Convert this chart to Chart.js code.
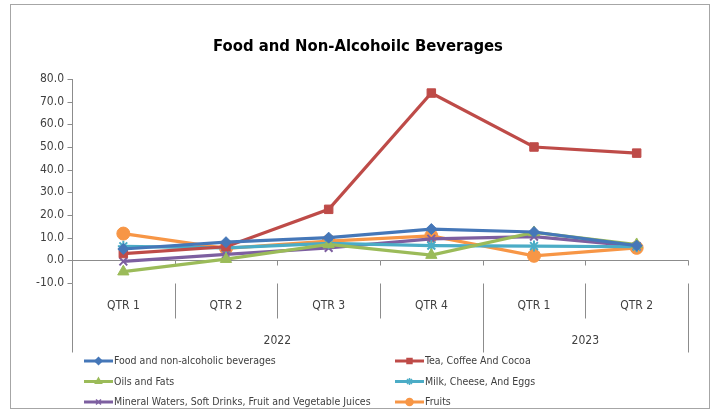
<!DOCTYPE html>
<html lang="en">
<head>
<meta charset="UTF-8">
<title>Food and Non-Alcohoilc Beverages</title>
<script src="https://cdn.jsdelivr.net/npm/chart.js"></script>
<style>
  html, body { margin: 0; padding: 0; background: #fff; }
  #wrap { width: 717px; height: 411px; }
</style>
</head>
<body>
<div id="wrap"><canvas id="chart" width="717" height="411"></canvas></div>
<script>
// categories
const quarters = ['QTR 1', 'QTR 2', 'QTR 3', 'QTR 4', 'QTR 1', 'QTR 2'];
const years = ['2022', '2023'];
const yearSpans = [4, 2];   // quarters per year
const yTicks = [-10, 0, 10, 20, 30, 40, 50, 60, 70, 80];

// series
const foodBev       = [5.0, 8.0, 10.0, 13.8, 12.5, 6.5];
const teaCoffee     = [3.0, 6.0, 22.5, 73.8, 50.0, 47.3];
const oilsFats      = [-5.0, 0.5, 7.0, 2.3, 12.3, 7.0];
const milkCheese    = [6.2, 5.5, 7.5, 6.5, 6.3, 6.0];
const mineralWaters = [-0.5, 2.6, 5.5, 9.5, 10.5, 6.3];
const fruits        = [11.8, 5.3, 8.5, 10.8, 2.0, 5.5];

const FONT = '"Liberation Sans Narrow", "DejaVu Sans Condensed", "Open Sans", sans-serif';
const TXT = '#404040';
const AXIS = '#8c8c8c';

function series(label, data, color, style, r) {
    return {
        label: label,
        data: data,
        borderColor: color,
        backgroundColor: color,
        pointBackgroundColor: color,
        pointBorderColor: color,
        borderWidth: 3.2,
        pointStyle: style,
        pointRadius: r,
        pointBorderWidth: (style === 'star' || style === 'crossRot') ? 2 : 1,
        tension: 0
    };
}

const datasets = [
    series('Food and non-alcoholic beverages', foodBev, '#4577B8', 'rectRot', 5.5),
    series('Tea, Coffee And Cocoa', teaCoffee, '#BE4B48', 'rect', 6),
    series('Oils and Fats', oilsFats, '#9BBB59', 'triangle', 6.5),
    series('Milk, Cheese, And Eggs', milkCheese, '#4BACC6', 'star', 5.5),
    series('Mineral Waters, Soft Drinks, Fruit and Vegetable Juices', mineralWaters, '#7D5FA0', 'crossRot', 5.5),
    series('Fruits', fruits, '#F79646', 'circle', 6.5)
];

// axes, frame, multi-level labels, title and legend
const decor = {
    id: 'decor',
    beforeDraw(chart) {
        const ctx = chart.ctx;
        ctx.save();
        ctx.fillStyle = '#fff';
        ctx.fillRect(0, 0, chart.width, chart.height);
        ctx.strokeStyle = '#a6a6a6';
        ctx.lineWidth = 1;
        ctx.strokeRect(10.5, 4.5, 699, 404);
        ctx.restore();
    },
    beforeDatasetsDraw(chart) {
        const ctx = chart.ctx;
        const a = chart.chartArea;
        const x = chart.scales.x, y = chart.scales.y;
        const left = Math.round(a.left) + 0.5;
        const right = Math.round(a.right) + 0.5;
        const bottom = Math.round(a.bottom) + 0.5;
        const zero = Math.round(y.getPixelForValue(0)) + 0.5;
        const step = x.getPixelForValue(1) - x.getPixelForValue(0);
        ctx.save();
        ctx.strokeStyle = AXIS;
        ctx.lineWidth = 1;
        ctx.beginPath();
        // y axis and its ticks
        ctx.moveTo(left, Math.round(a.top));
        ctx.lineTo(left, bottom);
        yTicks.forEach(v => {
            const py = Math.round(y.getPixelForValue(v)) + 0.5;
            ctx.moveTo(left - 5, py);
            ctx.lineTo(left, py);
        });
        // zero line with category ticks
        ctx.moveTo(left, zero);
        ctx.lineTo(right, zero);
        for (let i = 1; i <= quarters.length; i++) {
            const px = Math.round(x.getPixelForValue(i) - step / 2) + 0.5;
            ctx.moveTo(px, zero);
            ctx.lineTo(px, zero + 5);
        }
        // label separators below the plot
        let idx = 0;
        const yearEdges = [0];
        yearSpans.forEach(n => { idx += n; yearEdges.push(idx); });
        for (let i = 0; i <= quarters.length; i++) {
            const px = Math.round(x.getPixelForValue(i) - step / 2) + 0.5;
            const long = yearEdges.includes(i);
            ctx.moveTo(px, bottom);
            ctx.lineTo(px, long ? bottom + 69 : bottom + 35);
        }
        ctx.stroke();

        // quarter and year labels
        ctx.fillStyle = TXT;
        ctx.font = '12px ' + FONT;
        ctx.textAlign = 'center';
        ctx.textBaseline = 'middle';
        quarters.forEach((q, i) => ctx.fillText(q, x.getPixelForValue(i), bottom + 22));
        let start = 0;
        years.forEach((yr, k) => {
            const mid = (x.getPixelForValue(start) + x.getPixelForValue(start + yearSpans[k] - 1)) / 2;
            ctx.fillText(yr, mid, bottom + 57);
            start += yearSpans[k];
        });
        ctx.restore();
    },
    afterDraw(chart) {
        const ctx = chart.ctx;
        ctx.save();
        ctx.fillStyle = '#000';
        ctx.font = 'bold 16.5px ' + FONT;
        ctx.textAlign = 'center';
        ctx.textBaseline = 'middle';
        ctx.fillText('Food and Non-Alcohoilc Beverages', 358, 47);

        // two-column legend
        ctx.font = '10.5px ' + FONT;
        ctx.textAlign = 'left';
        chart.data.datasets.forEach((ds, i) => {
            const lx = i % 2 === 0 ? 84 : 395;
            const ly = 361 + Math.floor(i / 2) * 20.5;
            ctx.strokeStyle = ds.borderColor;
            ctx.fillStyle = ds.borderColor;
            ctx.lineWidth = 3;
            ctx.beginPath();
            ctx.moveTo(lx, ly);
            ctx.lineTo(lx + 29, ly);
            ctx.stroke();
            ctx.lineWidth = 1.5;
            Chart.helpers.drawPoint(ctx, {
                pointStyle: ds.pointStyle, radius: 3.5, rotation: 0, borderWidth: 1.5
            }, lx + 14.5, ly);
            ctx.fillStyle = TXT;
            ctx.fillText(ds.label, lx + 30, ly + 0.5);
        });
        ctx.restore();
    }
};

new Chart(document.getElementById('chart'), {
    type: 'line',
    data: { labels: quarters, datasets: datasets },
    options: {
        responsive: false,
        animation: false,
        devicePixelRatio: 1,
        layout: { padding: { left: 10, top: 79, right: 29, bottom: 128 } },
        plugins: { legend: { display: false }, tooltip: { enabled: false }, title: { display: false } },
        scales: {
            x: { type: 'category', offset: true, display: false },
            y: {
                min: -10, max: 80,
                afterFit(scale) { scale.width = 62; },
                afterBuildTicks(scale) { scale.ticks = yTicks.map(v => ({ value: v })); },
                ticks: {
                    callback: v => v.toFixed(1),
                    color: TXT,
                    font: { family: FONT, size: 12 },
                    padding: 8
                },
                grid: { display: false, drawTicks: false },
                border: { display: false }
            }
        }
    },
    plugins: [decor]
});
</script>
</body>
</html>
